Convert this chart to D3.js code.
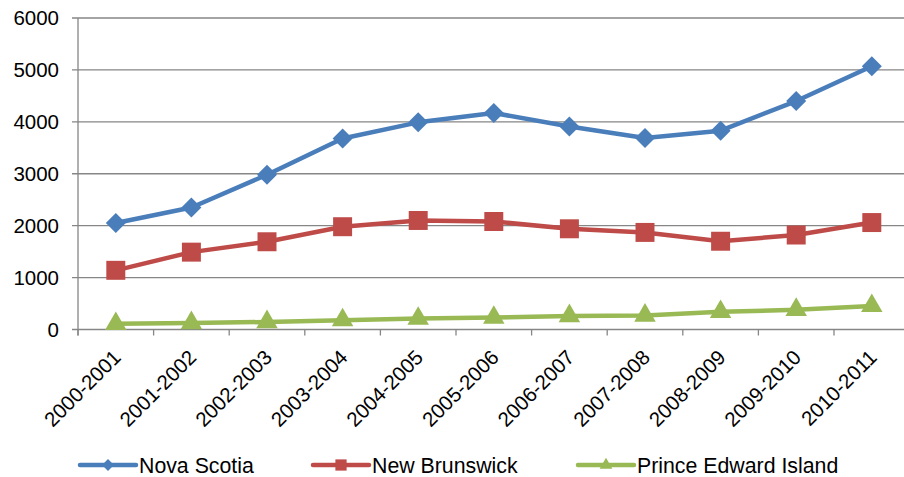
<!DOCTYPE html>
<html><head><meta charset="utf-8">
<script src="https://cdn.jsdelivr.net/npm/d3@7"></script>
<style>body{margin:0;background:#fff}svg{display:block;font-family:"Liberation Sans",Arial,sans-serif}</style>
</head><body>
<svg id="c" width="904" height="477"></svg>
<script>
const categories=["2000-2001","2001-2002","2002-2003","2003-2004","2004-2005","2005-2006","2006-2007","2007-2008","2008-2009","2009-2010","2010-2011"];
const novaScotia=[2050,2350,2980,3680,3990,4170,3910,3690,3830,4400,5070];
const newBrunswick=[1140,1490,1690,1980,2100,2080,1940,1870,1700,1820,2060];
const pei=[110,125,145,180,210,230,260,270,340,380,455];
const yTicks=[0,1000,2000,3000,4000,5000,6000];
const seriesNames=["Nova Scotia","New Brunswick","Prince Edward Island"];

const series=[
 {name:seriesNames[0],values:novaScotia,color:"#4A7EBB",sym:d3.symbolSquare,size:200,rot:45},
 {name:seriesNames[1],values:newBrunswick,color:"#BE4B48",sym:d3.symbolSquare,size:360,rot:0},
 {name:seriesNames[2],values:pei,color:"#98B954",sym:d3.symbolTriangle,size:200,rot:0}
];
const svg=d3.select("#c");
const L=78,R=909.6,T=18,B=329.5;
const x=d3.scalePoint().domain(categories).range([L,R]).padding(0.5);
const y=d3.scaleLinear().domain([0,6000]).range([B,T]);
svg.append("g").selectAll("line").data(yTicks).join("line")
 .attr("x1",L-6).attr("x2",R).attr("y1",d=>y(d)).attr("y2",d=>y(d))
 .attr("stroke","#868686").attr("stroke-width",1.3);
svg.append("line").attr("x1",L).attr("x2",L).attr("y1",T).attr("y2",B+6).attr("stroke","#868686").attr("stroke-width",1.3);
const step=(R-L)/categories.length;
svg.append("g").selectAll("line").data(d3.range(categories.length+1)).join("line")
 .attr("x1",i=>L+i*step).attr("x2",i=>L+i*step).attr("y1",B).attr("y2",B+6)
 .attr("stroke","#868686").attr("stroke-width",1.3);
svg.append("g").selectAll("text").data(yTicks).join("text")
 .attr("x",L-19).attr("y",d=>y(d)).attr("dy","0.36em").attr("text-anchor","end")
 .attr("font-size",20.5).attr("fill","#000").text(d=>d);
svg.append("g").selectAll("text").data(categories).join("text")
 .attr("transform",d=>`translate(${x(d)+1},${B+24}) rotate(-45)`)
 .attr("text-anchor","end").attr("dy","0.36em").attr("font-size",20.5).attr("fill","#000").text(d=>d);
const line=d3.line().x((d,i)=>x(categories[i])).y(d=>y(d));
series.forEach(s=>{
 svg.append("path").datum(s.values).attr("d",line).attr("fill","none")
  .attr("stroke",s.color).attr("stroke-width",4.5).attr("stroke-linejoin","round");
 svg.append("g").selectAll("path").data(s.values).join("path")
  .attr("transform",(d,i)=>`translate(${x(categories[i])},${y(d)}) rotate(${s.rot})`)
  .attr("d",d3.symbol().type(s.sym).size(s.size)).attr("fill",s.color);
});
const legX=[80,313,578];
series.forEach((s,i)=>{
 const g=svg.append("g").attr("transform",`translate(${legX[i]},465)`);
 g.append("line").attr("x1",0).attr("x2",56).attr("stroke",s.color).attr("stroke-width",4.5).attr("stroke-linecap","round");
 g.append("path").attr("transform",`translate(28,0) rotate(${s.rot})`).attr("d",d3.symbol().type(s.sym).size(s.size*0.35)).attr("fill",s.color);
 g.append("text").attr("x",59).attr("dy","0.36em").attr("font-size",21.3).attr("fill","#000").text(s.name);
});
</script>
</body></html>
